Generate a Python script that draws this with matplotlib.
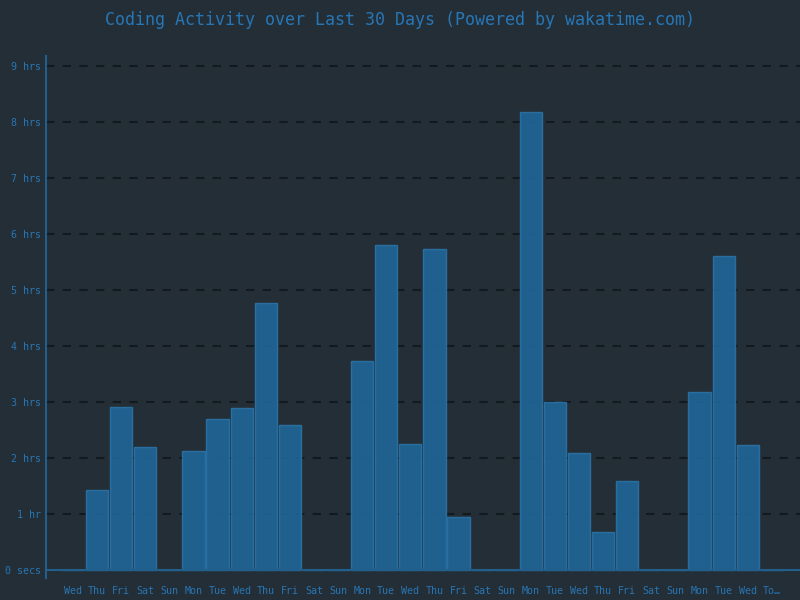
import matplotlib
matplotlib.use("Agg")
import matplotlib.pyplot as plt

# daily coding time in hours, last 30 days
days = ["Wed", "Thu", "Fri", "Sat", "Sun", "Mon", "Tue", "Wed", "Thu", "Fri",
        "Sat", "Sun", "Mon", "Tue", "Wed", "Thu", "Fri", "Sat", "Sun", "Mon",
        "Tue", "Wed", "Thu", "Fri", "Sat", "Sun", "Mon", "Tue", "Wed", "To\u2026"]
hours = [0, 1.43, 2.91, 2.20, 0, 2.13, 2.70, 2.89, 4.77, 2.59,
         0, 0, 3.73, 5.80, 2.25, 5.73, 0.95, 0, 0, 8.18,
         3.00, 2.09, 0.68, 1.59, 0, 0, 3.18, 5.61, 2.23, 0]
ytick_vals = [0, 1, 2, 3, 4, 5, 6, 7, 8, 9]
ytick_labels = ["0 secs", "1 hr", "2 hrs", "3 hrs", "4 hrs", "5 hrs",
                "6 hrs", "7 hrs", "8 hrs", "9 hrs"]

bg = "#242e37"
blue = "#2776b5"

plt.rcParams["font.family"] = "DejaVu Sans Mono"

fig = plt.figure(figsize=(8, 6), dpi=100, facecolor=bg)
ax = fig.add_axes([46 / 800, 22 / 600, 754 / 800, 522 / 600], facecolor=bg)

x = list(range(len(hours)))
ax.bar(x, hours, width=0.92, color="#1f6596", edgecolor="#2b72a6",
       linewidth=1, alpha=0.92, zorder=2)

for v in ytick_vals[1:]:
    ax.axhline(v, color="#14191e", linestyle=(0, (4, 4)), linewidth=1.5, zorder=1)
ax.axhline(0, color="#235f8c", linewidth=1.5, zorder=3)

ax.set_xlim(-1.12, 30.17)
ax.set_ylim(-0.14, 9.18)

ax.set_xticks(x)
ax.set_xticklabels(days)
ax.set_yticks(ytick_vals)
ax.set_yticklabels(ytick_labels)
ax.tick_params(axis="x", length=0, pad=6, labelsize=7.2, labelcolor=blue)
ax.tick_params(axis="y", length=0, pad=3.5, labelsize=7.2, labelcolor=blue)

for s in ["top", "right", "bottom"]:
    ax.spines[s].set_visible(False)
ax.spines["left"].set_color("#235f8c")
ax.spines["left"].set_linewidth(1.5)

fig.text(0.5, 1 - 20 / 600, "Coding Activity over Last 30 Days (Powered by wakatime.com)",
         ha="center", va="center", color=blue, fontsize=12)

fig.savefig("out.png", dpi=100, facecolor=bg)
